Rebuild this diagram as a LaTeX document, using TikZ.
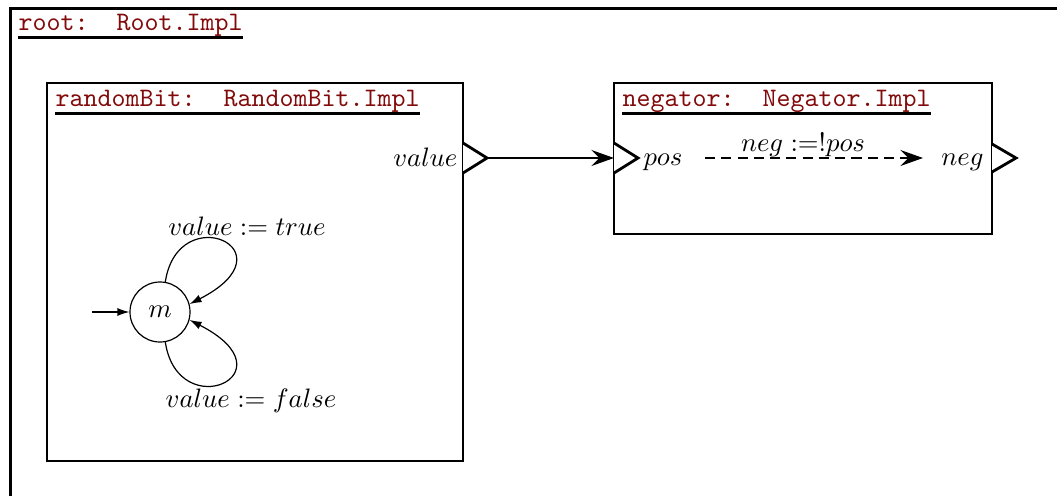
\documentclass[tikz,border=0pt]{standalone}
\usetikzlibrary{arrows.meta}
\definecolor{titlered}{RGB}{130,10,10}
\begin{document}
\begin{tikzpicture}[x=0.375pt,y=-0.375pt,
  box/.style={draw, line width=1.05pt, inner sep=0, rectangle},
  title/.style={anchor=base west, inner sep=0, text=titlered, font=\ttfamily},
  uline/.style={line width=0.9pt},
  port/.style={draw, line width=1.05pt, fill=white, line join=miter},
  conn/.style={line width=1.05pt, -{Stealth[length=8.5pt,width=6pt,inset=3pt]}},
  state/.style={draw, circle, line width=0.45pt, minimum size=22.5pt, inner sep=0},
  trans/.style={line width=0.45pt, -{Latex[length=4.5pt,width=3pt]}},
  lbl/.style={inner sep=0}]
\clip (0,0) rectangle (1057,495);
% root frame
\node[box, minimum width=400pt, minimum height=190pt, anchor=north west] (root) at (9,7) {};
\node[title] (roott) at (18,31) {root:\ \ Root.Impl};
\draw[uline] (roott.base west) ++(0,6.5) coordinate (ru1) -- (roott.base east |- ru1);
% randomBit
\node[box, minimum width=156pt, minimum height=141.75pt] (rb) at (255,272) {};
\node[title] (rbt) at (55,107) {randomBit:\ \ RandomBit.Impl};
\draw[uline] (rbt.base west) ++(0,6.5) coordinate (rbu1) -- (rbt.base east |- rbu1);
% negator
\node[box, minimum width=141.75pt, minimum height=56.6pt] (ng) at (803,158.5) {};
\node[title] (ngt) at (622,107) {negator:\ \ Negator.Impl};
\draw[uline] (ngt.base west) ++(0,6.5) coordinate (ngu1) -- (ngt.base east |- ngu1);
% ports
\coordinate (vtip) at (487,158);
\coordinate (ptip) at (614,158);
\draw[port] (463,143) -- (vtip) -- (463,173);
\draw[port] (614,143) -- (638,158) -- (614,173);
\draw[port] (992,144) -- (1016,158) -- (992,172);
\node[lbl, anchor=east] (vlab) at (458,157) {$value$};
\node[lbl, anchor=base west] (plab) at (643,166) {$pos$};
\node[lbl, anchor=base east] (nlab) at (984,166) {$neg$};
\draw[conn] (vtip) -- (ptip);
% internal dashed transition
\coordinate (ds) at (705,158);
\coordinate (de) at (923,158);
\draw[conn, dash pattern=on 3.8pt off 2.3pt] (ds) -- (de);
\node[lbl, anchor=base] (nglab) at (803,152) {$neg := !pos$};
% automaton
\node[state] (m) at (160,312) {$m$};
\coordinate (init) at (92,312);
\draw[trans] (init) -- (m);
\draw[trans] (m.80) .. controls (178,198) and (295,250) .. (m.15);
\draw[trans] (m.-80) .. controls (178,426) and (295,374) .. (m.-15);
\node[lbl] (tl) at (247,226) {$value := true$};
\node[lbl] (fl) at (251,401) {$value := false$};
\end{tikzpicture}
\end{document}
